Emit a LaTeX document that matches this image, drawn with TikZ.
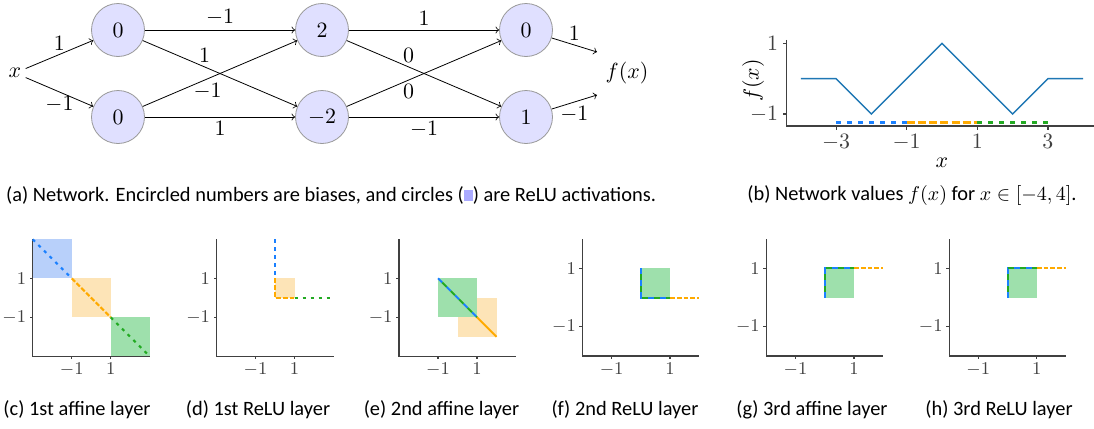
\documentclass[tikz,border=0pt]{standalone}
\usepackage{fontspec}
\newfontfamily\capfont{Carlito}
\usetikzlibrary{arrows.meta}

\definecolor{neuronfill}{RGB}{224,224,255}
\definecolor{relusq}{RGB}{170,170,255}
\definecolor{curveblue}{RGB}{31,119,180}
\definecolor{lineblue}{RGB}{26,128,255}
\definecolor{lineorange}{RGB}{255,170,0}
\definecolor{linegreen}{RGB}{34,170,34}
\definecolor{boxblue}{RGB}{184,208,250}
\definecolor{boxorange}{RGB}{253,228,183}
\definecolor{boxgreen}{RGB}{158,224,172}

\tikzset{
  neuron/.style={circle,draw=black!40,fill=neuronfill,minimum size=26.5pt,inner sep=0pt,font=\fontsize{11}{13}\selectfont},
  wlabel/.style={font=\fontsize{11}{13}\selectfont,inner sep=2pt},
  caption/.style={font=\capfont\fontsize{10.2}{12}\selectfont,inner sep=0pt},
  spine/.style={black!75,line width=0.6pt},
  ticklab/.style={font=\fontsize{8.7}{10}\selectfont,inner sep=1.5pt},
  bigticklab/.style={font=\fontsize{10.5}{12}\selectfont,inner sep=2pt},
  bluedash/.style={lineblue,line width=1pt,dash pattern=on 1.6pt off 2.4pt},
  orangedash/.style={lineorange,line width=1pt,dash pattern=on 2.4pt off 1pt},
  greendash/.style={linegreen,line width=1pt,dash pattern=on 1.6pt off 2.4pt},
  mixblue/.style={lineblue,line width=1pt,dash pattern=on 3pt off 3pt},
  mixgreen/.style={linegreen,line width=1pt,dash pattern=on 3pt off 3pt,dash phase=3pt},
}

% axes of one small panel, range [-#1,#1]
\newcommand{\panelaxes}[1]{%
  \draw[spine] (-#1,#1) -- (-#1,-#1) -- (#1,-#1);
  \foreach \t in {-1,1} {
    \draw[spine] (\t,-#1) -- ++(0,-1.5pt) node[below,ticklab]{$\t$};
    \draw[spine] (-#1,\t) -- ++(-1.5pt,0) node[left,ticklab]{$\t$};
  }
}

\begin{document}
\begin{tikzpicture}[x=0.5pt,y=-0.5pt,>=to]
  \useasboundingbox (0,0) rectangle (1094,429);

  % (a) network
  \node[wlabel] (x) at (15,73) {$x$};
  \node[neuron] (h11) at (118,30) {$0$};
  \node[neuron] (h12) at (118,117) {$0$};
  \node[neuron] (h21) at (322,30) {$2$};
  \node[neuron] (h22) at (322,117) {$-2$};
  \node[neuron] (h31) at (526,30) {$0$};
  \node[neuron] (h32) at (526,117) {$1$};
  \node[wlabel] (f) at (627,73) {$f(x)$};
  \coordinate (o1) at (597,52);
  \coordinate (o2) at (597,95);

  \draw[->] (x) -- (h11) node[midway,above,wlabel]{$1$};
  \draw[->] (x) -- (h12) node[midway,below,wlabel]{$-1$};
  \draw[->] (h11) -- (h21) node[midway,above,wlabel]{$-1$};
  \draw[->] (h11) -- (h22) node[pos=0.4,above,wlabel]{$1$};
  \draw[->] (h12) -- (h21) node[pos=0.42,below,wlabel]{$-1$};
  \draw[->] (h12) -- (h22) node[midway,below,wlabel]{$1$};
  \draw[->] (h21) -- (h31) node[midway,above,wlabel]{$1$};
  \draw[->] (h21) -- (h32) node[pos=0.4,above,wlabel]{$0$};
  \draw[->] (h22) -- (h31) node[pos=0.4,below,wlabel]{$0$};
  \draw[->] (h22) -- (h32) node[midway,below,wlabel]{$-1$};
  \draw[->] (h31) -- (o1) node[midway,above,wlabel]{$1$};
  \draw[->] (h32) -- (o2) node[midway,below,wlabel]{$-1$};

  \node[caption] (capa) at (331,195) {(a) Network. Encircled numbers are biases, and circles (\textcolor{relusq}{\rule[-0.2pt]{4.5pt}{5.5pt}}) are ReLU activations.};

  % (b) network values
  \begin{scope}[shift={(942,78.7)},x=17.65pt,y=17.65pt]
    \draw[spine] (-4.4,1.1) -- (-4.4,-1.34) -- (4.3,-1.34);
    \foreach \t in {-3,-1,1,3}
      \draw[spine] (\t,-1.34) -- ++(0,-2pt) node[below,bigticklab]{$\t$};
    \foreach \t in {-1,1}
      \draw[spine] (-4.4,\t) -- ++(-2pt,0) node[left,bigticklab]{$\t$};
    \draw[curveblue,line width=0.75pt] (-4,0) -- (-3,0) -- (-2,-1) -- (0,1) -- (2,-1) -- (3,0) -- (4,0);
    \draw[bluedash,line width=1.4pt,dash pattern=on 2.4pt off 3.1pt] (-3,-1.25) -- (-1,-1.25);
    \draw[orangedash,line width=1.4pt,dash pattern=on 4pt off 1.6pt] (-1,-1.25) -- (1,-1.25);
    \draw[greendash,line width=1.4pt,dash pattern=on 2.4pt off 3.1pt] (1,-1.25) -- (3,-1.25);
    \node[bigticklab] (xlab) at (0,-2.37) {$x$};
    \node[bigticklab,rotate=90] (ylab) at (-5.35,-0.05) {$f(x)$};
  \end{scope}
  \node[caption] (capb) at (912,195) {(b) Network values $f(x)$ for $x \in [-4,4]$.};

  % (c) 1st affine layer
  \begin{scope}[shift={(91.2,297.8)},x=9.75pt,y=9.75pt]
    \fill[boxblue] (-3,1) rectangle (-1,3);
    \fill[boxorange] (-1,-1) rectangle (1,1);
    \fill[boxgreen] (1,-3) rectangle (3,-1);
    \panelaxes{3}
    \draw[bluedash] (-3,3) -- (-1,1);
    \draw[orangedash] (-1,1) -- (1,-1);
    \draw[greendash] (1,-1) -- (3,-3);
  \end{scope}
  \node[caption] (capc) at (77,410) {(c) 1st affine layer};

  % (d) 1st ReLU layer
  \begin{scope}[shift={(275,297.8)},x=9.75pt,y=9.75pt]
    \fill[boxorange] (0,0) rectangle (1,1);
    \panelaxes{3}
    \draw[bluedash] (0,3) -- (0,1);
    \draw[orangedash] (0,1) -- (0,0) -- (1,0);
    \draw[greendash] (1,0) -- (3,0);
  \end{scope}
  \node[caption] (capd) at (258,410) {(d) 1st ReLU layer};

  % (e) 2nd affine layer
  \begin{scope}[shift={(457.5,297.8)},x=9.75pt,y=9.75pt]
    \fill[boxorange] (0,-2) rectangle (2,0);
    \fill[boxgreen] (-1,-1) rectangle (1,1);
    \panelaxes{3}
    \draw[mixblue] (-1,1) -- (1,-1);
    \draw[mixgreen] (-1,1) -- (1,-1);
    \draw[lineorange,line width=1pt] (1,-1) -- (2,-2);
  \end{scope}
  \node[caption] (cape) at (441.5,410) {(e) 2nd affine layer};

  % (f) 2nd ReLU layer
  \begin{scope}[shift={(640.8,297.5)},x=14.6pt,y=14.6pt]
    \fill[boxgreen] (0,0) rectangle (1,1);
    \panelaxes{2}
    \draw[mixblue] (0,1) -- (0,0) -- (1,0);
    \draw[mixgreen] (0,1) -- (0,0) -- (1,0);
    \draw[orangedash] (1,0) -- (2,0);
  \end{scope}
  \node[caption] (capf) at (625,410) {(f) 2nd ReLU layer};

  % (g) 3rd affine layer
  \begin{scope}[shift={(824.7,297.5)},x=14.6pt,y=14.6pt]
    \fill[boxgreen] (0,0) rectangle (1,1);
    \panelaxes{2}
    \draw[mixblue] (0,0) -- (0,1) -- (1,1);
    \draw[mixgreen] (0,0) -- (0,1) -- (1,1);
    \draw[orangedash] (1,1) -- (2,1);
  \end{scope}
  \node[caption] (capg) at (812,410) {(g) 3rd affine layer};

  % (h) 3rd ReLU layer
  \begin{scope}[shift={(1007.5,297.5)},x=14.6pt,y=14.6pt]
    \fill[boxgreen] (0,0) rectangle (1,1);
    \panelaxes{2}
    \draw[mixblue] (0,0) -- (0,1) -- (1,1);
    \draw[mixgreen] (0,0) -- (0,1) -- (1,1);
    \draw[orangedash] (1,1) -- (2,1);
  \end{scope}
  \node[caption] (caph) at (999,410) {(h) 3rd ReLU layer};
\end{tikzpicture}
\end{document}
